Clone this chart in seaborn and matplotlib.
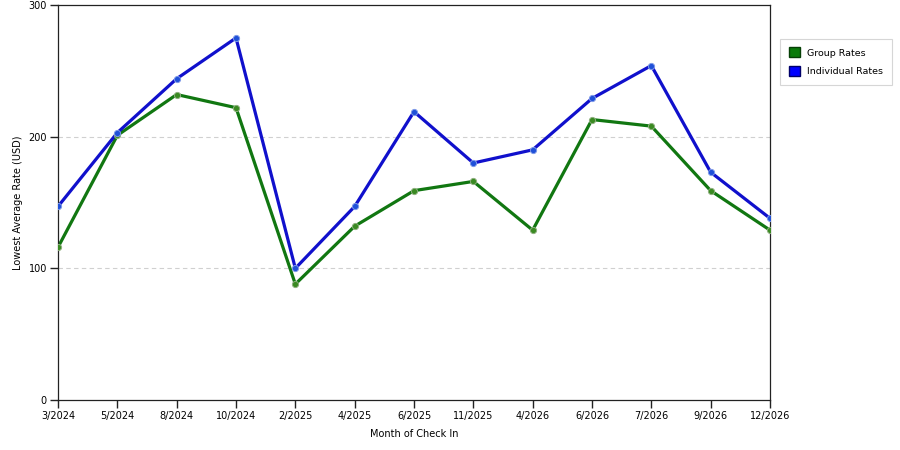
import pandas as pd
import numpy as np
import seaborn as sns
import matplotlib.pyplot as plt
from matplotlib.patches import Patch

# Données
months = ['3/2024', '5/2024', '8/2024', '10/2024', '2/2025', '4/2025', '6/2025',
          '11/2025', '4/2026', '6/2026', '7/2026', '9/2026', '12/2026']
group_rates = [116, 201, 232, 222, 88, 132, 159, 166, 129, 213, 208, 159, 129]
individual_rates = [147, 203, 244, 275, 100, 147, 219, 180, 190, 229, 254, 173, 138]
series_names = ['Group Rates', 'Individual Rates']
y_ticks = [0, 100, 200, 300]

sns.set_style("ticks")
plt.rcParams.update({
    'font.family': ['DejaVu Sans'],
    'font.size': 7,
    'text.color': 'black',
    'axes.labelcolor': 'black',
    'xtick.major.size': 6,
    'ytick.major.size': 6,
    'xtick.major.width': 1.0,
    'ytick.major.width': 1.0,
    'xtick.color': '#222222',
    'ytick.color': '#222222',
})

df = pd.DataFrame({
    'pos': list(range(len(months))) * 2,
    'rate': group_rates + individual_rates,
    'serie': [series_names[0]] * len(months) + [series_names[1]] * len(months),
})

line_colors = {'Group Rates': '#117711', 'Individual Rates': '#1010cc'}
marker_colors = {'Group Rates': '#3a8a22', 'Individual Rates': '#1f50d8'}
marker_edges = {'Group Rates': '#8fb080', 'Individual Rates': '#7f9ae8'}

fig = plt.figure(figsize=(9, 4.5), dpi=100)
ax = fig.add_axes([58 / 900, 50 / 450, 712 / 900, 395 / 450])

# grille pointillée
for v in y_ticks[1:-1]:
    ax.axhline(v, color='#d0d0d0', linestyle=(0, (4, 3)), linewidth=0.8, zorder=0)

sns.lineplot(data=df, x='pos', y='rate', hue='serie', palette=line_colors,
             linewidth=2.3, sort=False, legend=False, ax=ax, zorder=2)
for name in series_names:
    sub = df[df['serie'] == name]
    sns.scatterplot(data=sub, x='pos', y='rate', color=marker_colors[name],
                    s=20, edgecolor=marker_edges[name],
                    linewidth=0.7, legend=False, ax=ax, zorder=3)

ax.set_xlim(0, len(months) - 1)
ax.set_ylim(0, 300)
ax.set_xticks(range(len(months)))
ax.set_xticklabels(months)
ax.set_yticks(y_ticks)
ax.tick_params(axis='both', labelsize=7, pad=2, labelcolor='black')
for sp in ax.spines.values():
    sp.set_color('#222222')
    sp.set_linewidth(0.9)

ax.set_xlabel('Month of Check In', fontsize=7, labelpad=6)
ax.set_ylabel('Lowest Average Rate (USD)', fontsize=7, labelpad=4)

handles = [Patch(facecolor='#0a7a0a', edgecolor='#064006', label=series_names[0]),
           Patch(facecolor='#0000ff', edgecolor='#00006a', label=series_names[1])]
leg = fig.legend(handles=handles, loc='upper left', bbox_to_anchor=(780 / 900, 1 - 39 / 450),
                 fontsize=6.8, frameon=True, fancybox=False, edgecolor='#cccccc',
                 handlelength=1.2, handleheight=1.2, handletextpad=0.8,
                 borderpad=0.9, labelspacing=0.9, borderaxespad=0)
leg.get_frame().set_linewidth(0.8)

fig.savefig('out.png', dpi=100)
